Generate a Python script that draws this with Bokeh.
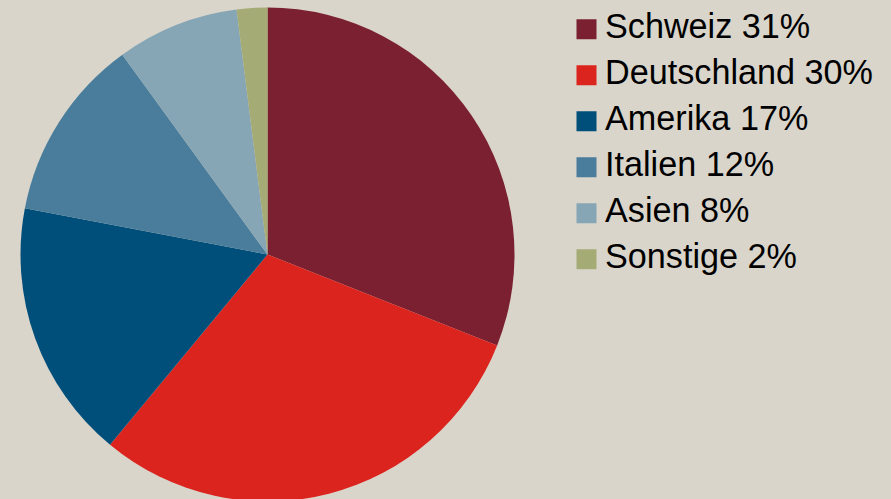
import math
from bokeh.plotting import figure
from bokeh.models import Range1d, ColumnDataSource
from bokeh.core.properties import value
from bokeh.embed import file_html
from bokeh.resources import INLINE

categories = ["Schweiz", "Deutschland", "Amerika", "Italien", "Asien", "Sonstige"]
shares = [31, 30, 17, 12, 8, 2]
colors = ["#7B2030", "#DC241F", "#004F7A", "#4A7D9C", "#86A6B5", "#A5AB75"]
labels = [f"{c} {s}%" for c, s in zip(categories, shares)]

BG = "#D9D5CB"
W, H = 891, 499

total = sum(shares)
starts, ends = [], []
cum = 0
for s in shares:
    starts.append(math.pi / 2 - 2 * math.pi * cum / total)
    cum += s
    ends.append(math.pi / 2 - 2 * math.pi * cum / total)

src = ColumnDataSource(dict(start=starts, end=ends, color=colors, label=labels))

p = figure(width=W, height=H, x_range=Range1d(0, W), y_range=Range1d(0, H),
           output_backend="svg", toolbar_location=None, min_border=0,
           background_fill_color=BG, border_fill_color=BG, outline_line_color=None)
p.axis.visible = False
p.grid.visible = False

# pie (screen centre 267,254 ; radius 247)
cx, cy, r = 267, H - 254, 247
p.wedge(x=cx, y=cy, radius=r, start_angle="start", end_angle="end",
        direction="clock", fill_color="color", line_color=None, source=src)

# legend
row0, step = 28.7, 46
ys_sq = [H - (row0 + step * i) for i in range(len(labels))]
ys_tx = [y + 3 for y in ys_sq]
leg = ColumnDataSource(dict(ysq=ys_sq, ytx=ys_tx, color=colors, label=labels))
p.rect(x=586, y="ysq", width=20, height=20, fill_color="color",
       line_color=None, source=leg)
p.text(x=604.5, y="ytx", text="label", text_font=value("Liberation Sans"),
       text_font_size="34.2px", text_color="#000000", text_baseline="alphabetic",
       text_align="left", source=leg)

html = file_html(p, INLINE)
html = html.replace("<head>", "<head><style>body{background:%s;}</style>" % BG, 1)
open("out.html", "w").write(html)
